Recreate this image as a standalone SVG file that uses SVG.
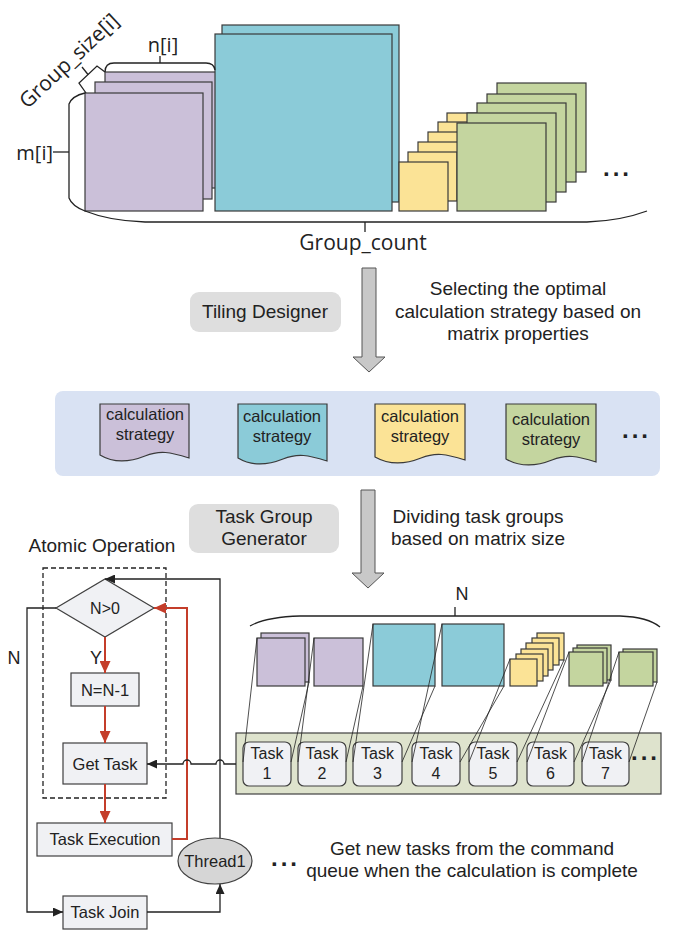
<svg xmlns="http://www.w3.org/2000/svg" width="681" height="933" viewBox="0 0 681 933">
<defs>
<style>
.os{font-family:"Open Sans","DejaVu Sans",sans-serif;fill:#222;}
.ls{font-family:"Liberation Sans",Arial,sans-serif;fill:#222;}
.m{stroke:#3a3a3a;stroke-width:1.2;}
.pu{fill:#CBC0D9;}
.te{fill:#8BCBD8;}
.ye{fill:#FBE396;}
.gr{fill:#C4D59F;}
.br{fill:none;stroke:#222;stroke-width:1.3;}
.thin{fill:none;stroke:#222;stroke-width:0.8;}
.box{fill:#F0F1F4;stroke:#404040;stroke-width:1.2;}
.blk{fill:none;stroke:#222;stroke-width:1.3;}
.red{fill:none;stroke:#C43D2A;stroke-width:2;}
.garrow{fill:#C8C8C8;stroke:#555;stroke-width:1;}
.dots{font-family:"Liberation Sans",Arial,sans-serif;font-weight:bold;font-size:24px;letter-spacing:3px;fill:#222;}
</style>
<marker id="ab" markerUnits="userSpaceOnUse" markerWidth="11" markerHeight="9" refX="10" refY="4.5" orient="auto"><path d="M0,0 L10,4.5 L0,9 z" fill="#222"/></marker>
<marker id="ar" markerUnits="userSpaceOnUse" markerWidth="13" markerHeight="11" refX="12" refY="5.5" orient="auto"><path d="M0,0 L12,5.5 L0,11 z" fill="#C43D2A"/></marker>
</defs>
<rect width="681" height="933" fill="#fff"/>

<g id="matrices-top">
<rect class="m pu" x="105" y="72" width="117" height="116"/>
<rect class="m pu" x="95" y="82" width="117" height="117"/>
<rect class="m pu" x="85" y="93" width="118" height="118"/>
<rect class="m te" x="222" y="25" width="177" height="177"/>
<rect class="m te" x="215" y="34" width="177" height="177"/>
<rect class="m ye" x="447" y="113" width="49" height="49"/>
<rect class="m ye" x="438" y="122" width="49" height="49"/>
<rect class="m ye" x="428" y="132" width="49" height="49"/>
<rect class="m ye" x="418" y="142" width="49" height="49"/>
<rect class="m ye" x="408" y="152" width="49" height="49"/>
<rect class="m ye" x="399" y="162" width="49" height="49"/>
<rect class="m gr" x="497" y="83" width="89" height="89"/>
<rect class="m gr" x="487" y="94" width="89" height="88"/>
<rect class="m gr" x="477" y="103" width="89" height="89"/>
<rect class="m gr" x="467" y="113" width="89" height="89"/>
<rect class="m gr" x="457" y="123" width="89" height="88"/>
<text class="dots" x="603" y="176">...</text>
</g>

<g id="brackets-top">
<path class="br" d="M105,72 Q105,63 114,63 L206,63 Q214,63 215,70"/>
<path class="br" d="M160,63 L160,56"/>
<path class="br" d="M85,93 Q72,96 69,104 L69,198 Q72,206 85,211 Q110,221 145,222 L587,222 Q620,221 647,211"/>
<path class="br" d="M53,152 L69,152"/>
<path class="br" d="M365,222 L365,232"/>
<path class="br" d="M86,93 L79,83 L97,66 L105,72"/>
<path class="br" d="M88,74.5 L82,67"/>
<text class="os" x="163" y="52" font-size="20" text-anchor="middle">n[i]</text>
<text class="os" x="53" y="160" font-size="20" text-anchor="end">m[i]</text>
<text class="os" x="363" y="250" font-size="21" text-anchor="middle">Group_count</text>
<text class="os" x="74" y="66" font-size="21" text-anchor="middle" transform="rotate(-43 74 66)">Group_size[i]</text>
</g>

<g id="tiling-designer">
<rect x="190" y="292" width="151" height="40" rx="9" fill="#DEDEDE"/>
<text class="ls" x="265" y="318" font-size="19" text-anchor="middle">Tiling Designer</text>
</g>
<g id="arrow1">
<path class="garrow" d="M362,268 L376,268 L376,357 L385,357 L369,372 L353,357 L362,357 z"/>
</g>
<g id="note1">
<text class="ls" font-size="19" text-anchor="middle"><tspan x="518" y="295">Selecting the optimal</tspan><tspan x="518" y="318">calculation strategy based on</tspan><tspan x="518" y="340">matrix properties</tspan></text>
</g>

<g id="strategy-panel">
<rect x="55" y="391" width="605" height="85" rx="8" fill="#D9E2F3"/>
<path class="m pu" d="M100,404 H189 V458 C170,452 160,450 145,456 C130,462 115,464 100,455 z"/>
<path class="m te" d="M238,404 H327 V461 C308,455 298,453 283,459 C268,465 253,467 238,458 z"/>
<path class="m ye" d="M375,404 H465 V460 C446,454 436,452 421,458 C406,464 391,466 375,457 z"/>
<path class="m gr" d="M506,404 H596 V462 C577,456 567,454 552,460 C537,466 522,468 506,459 z"/>
<text class="ls" font-size="16.5" text-anchor="middle"><tspan x="145" y="420">calculation</tspan><tspan x="145" y="440">strategy</tspan></text>
<text class="ls" font-size="16.5" text-anchor="middle"><tspan x="282" y="422">calculation</tspan><tspan x="282" y="442">strategy</tspan></text>
<text class="ls" font-size="16.5" text-anchor="middle"><tspan x="420" y="422">calculation</tspan><tspan x="420" y="442">strategy</tspan></text>
<text class="ls" font-size="16.5" text-anchor="middle"><tspan x="551" y="425">calculation</tspan><tspan x="551" y="445">strategy</tspan></text>
<text class="dots" x="622" y="438">...</text>
</g>

<g id="task-group-generator">
<rect x="189" y="504" width="150" height="49" rx="9" fill="#DEDEDE"/>
<text class="ls" font-size="19" text-anchor="middle"><tspan x="264" y="523">Task Group</tspan><tspan x="264" y="545">Generator</tspan></text>
</g>
<g id="arrow2">
<path class="garrow" d="M361,490 L375,490 L375,573 L384,573 L368,588 L352,573 L361,573 z"/>
</g>
<g id="note2">
<text class="ls" font-size="19" text-anchor="middle"><tspan x="478" y="523">Dividing task groups</tspan><tspan x="478" y="545">based on matrix size</tspan></text>
</g>

<g id="matrices-bottom">
<path class="br" d="M250,626 Q266,617 300,616 L620,616 Q648,617 660,627"/>
<path class="br" d="M455,607 L455,616"/>
<text class="ls" x="462" y="600" font-size="18" text-anchor="middle">N</text>
<rect class="m pu" x="261" y="633" width="48" height="49"/>
<rect class="m pu" x="257" y="638" width="48" height="48"/>
<rect class="m pu" x="314" y="638" width="49" height="48"/>
<rect class="m te" x="373" y="624" width="62" height="62"/>
<rect class="m te" x="442" y="624" width="62" height="62"/>
<rect class="m ye" x="537" y="633" width="27" height="27"/>
<rect class="m ye" x="532" y="638" width="27" height="27"/>
<rect class="m ye" x="526" y="643" width="27" height="27"/>
<rect class="m ye" x="521" y="649" width="27" height="27"/>
<rect class="m ye" x="516" y="654" width="27" height="27"/>
<rect class="m ye" x="510" y="659" width="27" height="27"/>
<rect class="m gr" x="577" y="645" width="34" height="35"/>
<rect class="m gr" x="573" y="648" width="34" height="35"/>
<rect class="m gr" x="569" y="652" width="34" height="34"/>
<rect class="m gr" x="623" y="649" width="34" height="33"/>
<rect class="m gr" x="619" y="652" width="34" height="34"/>
</g>

<g id="command-queue">
<rect x="236" y="733" width="425" height="61" fill="#DEE3CD" stroke="#404040" stroke-width="1.2"/>
<g class="ls" font-size="16" text-anchor="middle">
<rect class="box" x="243" y="742" width="48" height="44" rx="6"/><text x="267" y="759">Task</text><text x="267" y="779">1</text>
<rect class="box" x="298" y="742" width="48" height="44" rx="6"/><text x="322" y="759">Task</text><text x="322" y="779">2</text>
<rect class="box" x="353" y="742" width="49" height="44" rx="6"/><text x="377.5" y="759">Task</text><text x="377.5" y="779">3</text>
<rect class="box" x="412" y="742" width="48" height="44" rx="6"/><text x="436" y="759">Task</text><text x="436" y="779">4</text>
<rect class="box" x="469" y="742" width="48" height="44" rx="6"/><text x="493" y="759">Task</text><text x="493" y="779">5</text>
<rect class="box" x="527" y="742" width="47" height="44" rx="6"/><text x="550.5" y="759">Task</text><text x="550.5" y="779">6</text>
<rect class="box" x="582" y="742" width="47" height="44" rx="6"/><text x="605.5" y="759">Task</text><text x="605.5" y="779">7</text>
</g>
<text class="dots" x="631" y="760">...</text>
</g>

<g id="atomic-operation">
<text class="ls" x="102" y="552" font-size="19" text-anchor="middle">Atomic Operation</text>
<rect x="43" y="568" width="123" height="230" fill="none" stroke="#222" stroke-width="1.3" stroke-dasharray="5,3"/>
</g>
<g id="cond">
<path class="box" d="M105,579 L154,608 L105,637 L56,608 z"/>
<text class="ls" x="105" y="614" font-size="16" text-anchor="middle">N&gt;0</text>
</g>
<g id="dec">
<rect class="box" x="71" y="673" width="68" height="33"/>
<text class="ls" x="105" y="696" font-size="16.5" text-anchor="middle">N=N-1</text>
</g>
<g id="get-task">
<rect class="box" x="63" y="743" width="84" height="41"/>
<text class="ls" x="105" y="770" font-size="16.5" text-anchor="middle">Get Task</text>
</g>
<g id="task-exec">
<rect class="box" x="37" y="823" width="135" height="33"/>
<text class="ls" x="105" y="845" font-size="16.5" text-anchor="middle">Task Execution</text>
</g>
<g id="task-join">
<rect class="box" x="63" y="896" width="84" height="33"/>
<text class="ls" x="105" y="918" font-size="16.5" text-anchor="middle">Task Join</text>
</g>
<g id="thread1">
<ellipse cx="215" cy="861" rx="37" ry="23" fill="#D6D6D6" stroke="#404040" stroke-width="1.2"/>
<text class="ls" x="215" y="867" font-size="16.5" text-anchor="middle">Thread1</text>
<text class="dots" x="271" y="866">...</text>
</g>
<g id="note3">
<text class="ls" font-size="19" text-anchor="middle"><tspan x="472" y="855">Get new tasks from the command</tspan><tspan x="472" y="877">queue when the calculation is complete</tspan></text>
</g>

<g id="connectors">
<path class="thin" d="M257,638 L243,762 M309,682 L291,762 M314,638 L298,762 M363,686 L346,762 M373,624 L353,762 M435,686 L402,762 M442,624 L412,762 M504,686 L460,762 M510,659 L469,762 M564,660 L517,762 M569,652 L527,762 M611,680 L574,762 M619,652 L582,762 M657,682 L629,762"/>
<path class="red" d="M105,637 L105,673" marker-end="url(#ar)"/>
<path class="red" d="M105,706 L105,743" marker-end="url(#ar)"/>
<path class="red" d="M105,784 L105,823" marker-end="url(#ar)"/>
<path class="red" d="M172,839 L187,839 L187,608 L154,608" marker-end="url(#ar)"/>
<path class="blk" d="M220,838 L220,579 L105,579" marker-end="url(#ab)"/>
<path class="blk" d="M56,608 L27,608 L27,912 L63,912" marker-end="url(#ab)"/>
<path class="blk" d="M147,912 L220,912 L220,884" marker-end="url(#ab)"/>
<path class="blk" d="M236,764 L224,764 A4,4 0 0 0 216,764 L191,764 A4,4 0 0 0 183,764 L147,764" marker-end="url(#ab)"/>
<text class="ls" x="14" y="664" font-size="18" text-anchor="middle">N</text>
<text class="ls" x="96" y="664" font-size="18" text-anchor="middle">Y</text>
</g>
</svg>
